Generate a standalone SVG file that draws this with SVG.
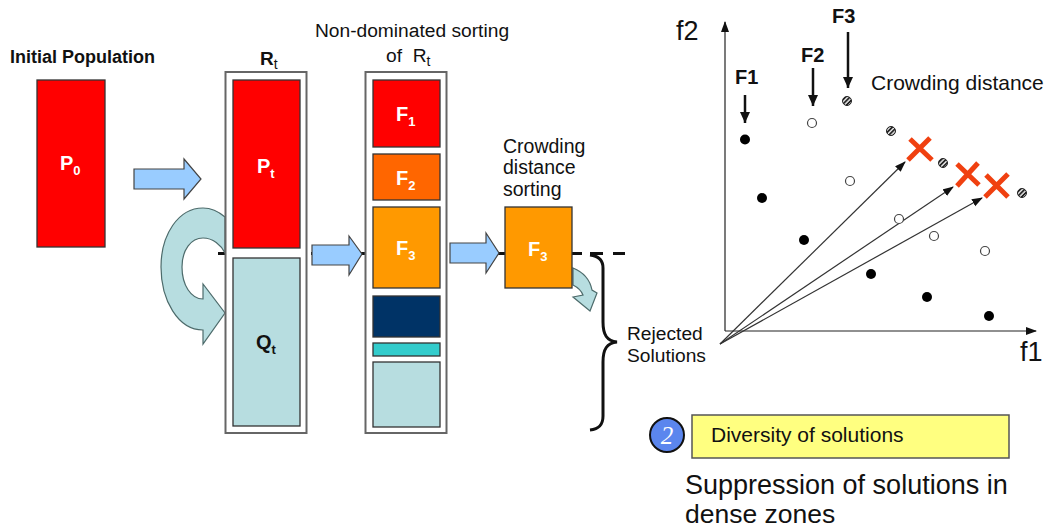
<svg xmlns="http://www.w3.org/2000/svg" width="1046" height="532" viewBox="0 0 1046 532">
<defs>
<marker id="ah" markerWidth="12" markerHeight="10" refX="10" refY="4" orient="auto" markerUnits="userSpaceOnUse"><path d="M0 0L11 4L0 8Z" fill="#111"/></marker>
<marker id="ad" markerWidth="12" markerHeight="12" refX="11" refY="5" orient="auto" markerUnits="userSpaceOnUse"><path d="M0 0L11 5L0 10Z" fill="#111"/></marker>
<pattern id="hatch" width="3.200" height="3.200" patternUnits="userSpaceOnUse" patternTransform="rotate(-45)"><rect width="3.200" height="3.200" fill="#eee"/><rect width="3.200" height="1.800" fill="#222"/></pattern>
</defs>
<style>
text{font-family:"Liberation Sans",Arial,sans-serif;fill:#111}
.lbl{font-size:19.200px}
.b{font-weight:bold}
.w{fill:#fff;font-weight:bold;font-size:20px}
.k{font-weight:bold;font-size:20px}
.s{font-size:13px}
.t{font-size:14px;font-weight:normal}
.box{stroke:#333;stroke-width:1.3}
.frame{fill:#fff;stroke:#666;stroke-width:2}
.arrow{fill:#99ccff;stroke:#444;stroke-width:1.2}
.teal{fill:#b7dde0;stroke:#4d6b6b;stroke-width:1.2}
.axis{stroke:#222;stroke-width:1.2;fill:none}
.ptr{stroke:#111;stroke-width:2.500;fill:none}
.ray{stroke:#333;stroke-width:1.2;fill:none}
.dash{stroke:#111;stroke-width:3;fill:none}
.x{stroke:#f04010;stroke-width:5;fill:none}
.open{fill:#fff;stroke:#444;stroke-width:1.200}
.hat{fill:url(#hatch);stroke:#222;stroke-width:1}
</style>
<g id="connectors">
<path class="dash" d="M218 253.500H226"/>
<path class="dash" d="M311 253.500H314M359 253.500H366"/>
<path class="dash" d="M497 253.500H505M572 253.500H582M590 253.500H603M613 253.500H625"/>
<path class="arrow" d="M134 169H184V159L201 179L184 199V189H134Z"/>
<path class="arrow" d="M312 245H349V236L362 254L349 275V265H312Z"/>
<path class="arrow" d="M450 243H486V233L499 253L486 273V263H450Z"/>
<path class="teal" d="M225 217C218 211 211 208 203 208C178 208 161 235 161 267C161 300 178 330 203 330V344L225 313L203 284V299C191 299 182 285 182 267C182 250 191 238 203 238C213 238 221 245 225 253Z"/>
<path class="teal" d="M573 268C583 272 590 280 592 290L597 293L590 311L573 297L583 295C581 290 577 287 573 285Z"/>
<path d="M590 255C599 256 603 260 603 268V322C603 335 607 341 617 342C607 343 603 349 603 362V416C603 425 599 429 590 430" fill="none" stroke="#111" stroke-width="3"/>
<path class="axis" d="M725 331V22" marker-end="url(#ah)"/>
<path class="axis" d="M725 331H1036" marker-end="url(#ah)"/>
<path class="ray" d="M720 344L905 162" marker-end="url(#ah)"/>
<path class="ray" d="M720 344L953 187" marker-end="url(#ah)"/>
<path class="ray" d="M720 344L982 198" marker-end="url(#ah)"/>
<path class="ptr" d="M745 95V123" marker-end="url(#ad)"/>
<path class="ptr" d="M813 68V106" marker-end="url(#ad)"/>
<path class="ptr" d="M848 32V88" marker-end="url(#ad)"/>
</g>
<g id="initial-population">
<text class="b" x="10" y="63" style="font-size:18px">Initial Population</text>
<rect class="box" x="37" y="80" width="68" height="167" fill="#ff0000"/>
<text class="w" x="60" y="170">P<tspan class="s" dy="5">0</tspan></text>
</g>
<g id="rt">
<text class="k" x="260" y="65" style="font-size:19px">R<tspan class="t" dy="4">t</tspan></text>
<rect class="frame" x="225.500" y="72" width="81" height="361"/>
<rect class="box" x="233" y="80" width="67" height="168" fill="#ff0000"/>
<rect class="box" x="233" y="258" width="67" height="168" fill="#b7dde0"/>
<text class="w" x="257" y="173">P<tspan class="s" dy="5">t</tspan></text>
<text class="k" x="256" y="349">Q<tspan class="s" dy="5">t</tspan></text>
</g>
<g id="sorted">
<text class="lbl" x="412" y="37" text-anchor="middle">Non-dominated sorting</text>
<text class="lbl" x="386" y="62" xml:space="preserve">of  R<tspan class="t" dy="4">t</tspan></text>
<rect class="frame" x="365.500" y="72" width="81" height="361"/>
<rect class="box" x="373" y="80" width="67" height="67" fill="#ff0000"/>
<rect class="box" x="373" y="154" width="67" height="46" fill="#ff6600"/>
<rect class="box" x="373" y="207" width="67" height="81" fill="#ff9900"/>
<rect class="box" x="373" y="296" width="67" height="41" fill="#003366"/>
<rect class="box" x="373" y="343" width="67" height="13" fill="#33cccc"/>
<rect class="box" x="373" y="362" width="67" height="65" fill="#b7dde0"/>
<text class="w" x="396" y="121">F<tspan class="s" dy="5">1</tspan></text>
<text class="w" x="396" y="185">F<tspan class="s" dy="5">2</tspan></text>
<text class="w" x="396" y="255">F<tspan class="s" dy="5">3</tspan></text>
</g>
<g id="crowding-sort">
<text x="503" y="153" style="font-size:19.500px">Crowding</text>
<text x="503" y="174" style="font-size:19.500px">distance</text>
<text x="503" y="196" style="font-size:19.500px">sorting</text>
<rect class="box" x="505" y="207" width="67" height="81" fill="#ff9900"/>
<text class="w" x="528" y="256">F<tspan class="s" dy="5">3</tspan></text>
</g>
<g id="rejected">
<text class="lbl" x="627" y="340">Rejected</text>
<text class="lbl" x="627" y="362">Solutions</text>
</g>
<g id="plot">
<text x="676" y="40" style="font-size:27px">f2</text>
<text x="1020" y="361" style="font-size:27px">f1</text>
<text class="b" x="735" y="84" style="font-size:20px">F1</text>
<text class="b" x="801" y="62" style="font-size:20px">F2</text>
<text class="b" x="832" y="23" style="font-size:20px">F3</text>
<text x="871" y="90" style="font-size:21px">Crowding distance</text>
<circle cx="745" cy="139.500" r="5" fill="#000"/>
<circle cx="762" cy="198" r="5" fill="#000"/>
<circle cx="804" cy="240" r="5" fill="#000"/>
<circle cx="871" cy="274" r="5" fill="#000"/>
<circle cx="927" cy="297" r="5" fill="#000"/>
<circle cx="989" cy="316" r="5" fill="#000"/>
<circle class="open" cx="812" cy="123" r="4.500"/>
<circle class="open" cx="850" cy="181" r="4.500"/>
<circle class="open" cx="899" cy="219" r="4.500"/>
<circle class="open" cx="934" cy="236" r="4.500"/>
<circle class="open" cx="985" cy="251" r="4.500"/>
<circle class="hat" cx="847" cy="101" r="4.500"/>
<circle class="hat" cx="891" cy="131" r="4.500"/>
<circle class="hat" cx="943" cy="163" r="4.500"/>
<circle class="hat" cx="1022" cy="193" r="4.500"/>
<path class="x" d="M908 160L930 138M910 139L932 160"/>
<path class="x" d="M957 186L978 163M957 164L979 185"/>
<path class="x" d="M985 197L1008 174M986 175L1008 197"/>
</g>
<g id="diversity">
<circle cx="667" cy="435" r="17" fill="#5b86ee" stroke="#111" stroke-width="2"/>
<text x="667" y="444" text-anchor="middle" style="font-family:'Liberation Serif',serif;font-size:25px;font-style:italic;fill:#fff">2</text>
<rect x="692" y="415" width="317" height="43" fill="#ffff80" stroke="#555" stroke-width="1.500"/>
<text x="711" y="442" style="font-size:21px">Diversity of solutions</text>
</g>
<g id="note">
<text x="685" y="494" style="font-size:27px">Suppression of solutions in</text>
<text x="685" y="523" style="font-size:26.500px">dense zones</text>
</g>
</svg>
